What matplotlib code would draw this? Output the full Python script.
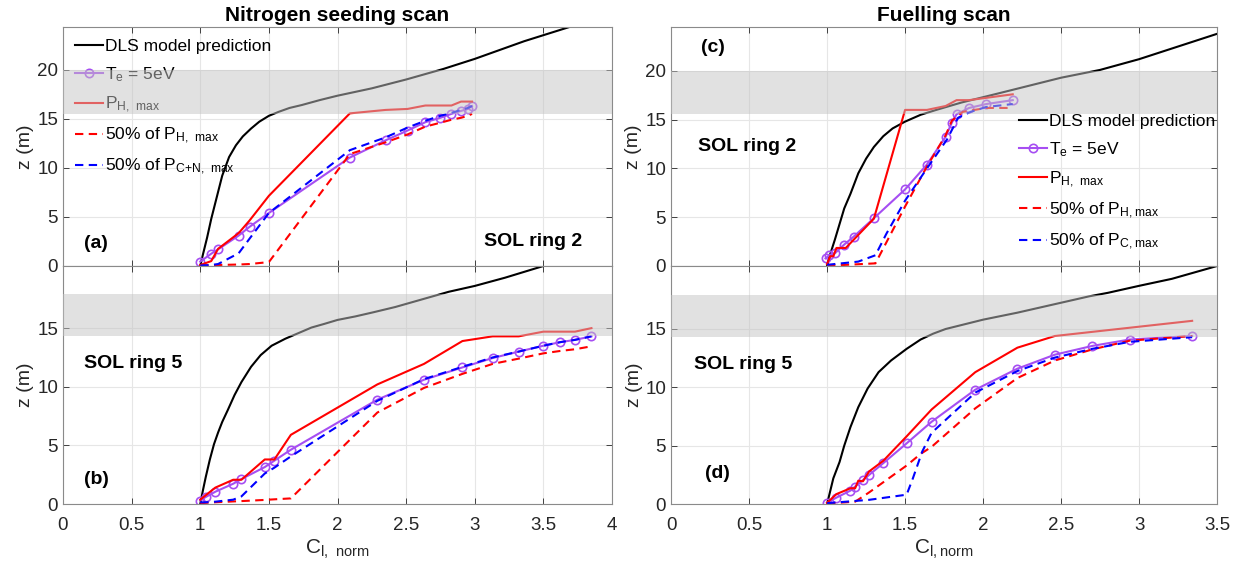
import numpy as np
import matplotlib
matplotlib.use('Agg')
import matplotlib.pyplot as plt
from matplotlib.ticker import FormatStrFormatter, MultipleLocator

plt.rcParams['font.family'] = ['Liberation Sans', 'DejaVu Sans']
plt.rcParams['mathtext.default'] = 'regular'

# ---- panel (a): nitrogen seeding, SOL ring 2 ----
a_dls_x = [1.0, 1.02, 1.05, 1.08, 1.12, 1.16, 1.21, 1.26, 1.31, 1.37, 1.43, 1.5, 1.57, 1.65,
           1.74, 1.87, 2.0, 2.25, 2.5, 2.77, 3.0, 3.36, 3.69, 3.75]
a_dls_z = [0, 1.2, 2.9, 4.8, 7.0, 9.2, 11.1, 12.3, 13.2, 14.0, 14.7, 15.3, 15.7, 16.1,
           16.4, 16.9, 17.35, 18.1, 19.0, 20.07, 21.1, 22.9, 24.35, 24.7]
a_x = [1.0, 1.08, 1.13, 1.28, 1.36, 1.5, 2.09, 2.35, 2.51, 2.64, 2.75, 2.83, 2.9, 2.95, 2.98]
a_te = [0.45, 1.25, 1.7, 3.1, 4.0, 5.4, 11.05, 12.8, 13.8, 14.65, 15.1, 15.5, 15.8, 16.0, 16.3]
a_ph = [0.1, 0.5, 1.75, 3.35, 4.65, 7.15, 15.55, 15.9, 16.0, 16.35, 16.35, 16.35, 16.75, 16.75, 16.75]
a_ph50 = [0.05, 0.08, 0.1, 0.15, 0.2, 0.4, 11.4, 12.6, 13.4, 14.2, 14.6, 14.9, 15.1, 15.3, 15.5]
a_pc50 = [0.05, 0.1, 0.2, 1.3, 2.8, 5.4, 11.8, 13.1, 14.1, 14.8, 15.3, 15.6, 15.9, 16.1, 16.3]

# ---- panel (b): nitrogen seeding, SOL ring 5 ----
b_dls_x = [1.0, 1.02, 1.04, 1.07, 1.10, 1.13, 1.16, 1.20, 1.25, 1.30, 1.37, 1.44, 1.52, 1.62,
           1.72, 1.81, 1.9, 2.0, 2.13, 2.26, 2.42, 2.57, 2.81, 3.0, 3.22, 3.5]
b_dls_z = [0, 1.2, 2.3, 3.8, 5.1, 6.1, 7.0, 8.0, 9.3, 10.4, 11.7, 12.7, 13.5, 14.1,
           14.6, 15.05, 15.35, 15.7, 16.0, 16.35, 16.8, 17.3, 18.1, 18.6, 19.3, 20.3]
b_x = [1.0, 1.04, 1.11, 1.24, 1.30, 1.47, 1.54, 1.66, 2.29, 2.63, 2.91, 3.13, 3.32, 3.50, 3.62, 3.73, 3.85]
b_te = [0.3, 0.6, 1.05, 1.73, 2.13, 3.15, 3.7, 4.63, 8.9, 10.6, 11.65, 12.45, 13.0, 13.5, 13.8, 14.0, 14.3]
b_ph = [0.37, 0.75, 1.4, 2.07, 2.07, 3.8, 3.8, 5.9, 10.2, 11.95, 13.9, 14.3, 14.3, 14.7, 14.7, 14.7, 15.0]
b_ph50 = [0.08, 0.1, 0.15, 0.22, 0.25, 0.35, 0.4, 0.48, 7.8, 9.9, 11.1, 11.95, 12.4, 12.85, 13.05, 13.2, 13.45]
b_pc50 = [0.14, 0.15, 0.2, 0.37, 0.65, 2.6, 3.1, 4.06, 8.8, 10.65, 11.7, 12.5, 13.0, 13.5, 13.8, 14.0, 14.3]

# ---- panel (c): fuelling, SOL ring 2 ----
c_dls_x = [1.0, 1.02, 1.05, 1.08, 1.11, 1.15, 1.2, 1.25, 1.3, 1.36, 1.42, 1.5, 1.6, 1.7, 1.86,
           2.1, 2.5, 2.75, 3.0, 3.25, 3.5]
c_dls_z = [0, 1.2, 2.7, 4.3, 5.9, 7.4, 9.5, 11.0, 12.2, 13.3, 14.1, 14.8, 15.5, 16.0, 16.75,
           17.7, 19.3, 20.1, 21.2, 22.5, 23.8]
c_te_x = [0.99, 1.015, 1.05, 1.11, 1.17, 1.30, 1.50, 1.64, 1.76, 1.80, 1.83, 1.91, 2.02, 2.19]
c_te = [0.78, 1.1, 1.3, 2.2, 3.0, 4.9, 7.85, 10.4, 13.25, 14.7, 15.55, 16.2, 16.6, 17.0]
c_ph_x = [1.0, 1.02, 1.04, 1.06, 1.12, 1.30, 1.50, 1.64, 1.76, 1.83, 1.91, 2.19]
c_ph = [0.2, 1.0, 1.0, 1.85, 1.85, 4.85, 16.0, 16.0, 16.4, 17.0, 17.0, 17.6]
c_ph50_x = [1.0, 1.1, 1.31, 1.36, 1.50, 1.64, 1.76, 1.80, 1.87, 2.02, 2.19]
c_ph50 = [0.05, 0.1, 0.27, 1.8, 6.1, 10.2, 13.4, 14.9, 15.8, 16.2, 16.2]
c_pc50_x = [1.0, 1.2, 1.31, 1.38, 1.50, 1.64, 1.77, 1.84, 1.92, 2.02, 2.19]
c_pc50 = [0.12, 0.45, 1.1, 3.3, 6.7, 10.0, 13.0, 15.2, 15.8, 16.3, 16.6]

# ---- panel (d): fuelling, SOL ring 5 ----
d_dls_x = [1.0, 1.02, 1.04, 1.08, 1.11, 1.15, 1.2, 1.26, 1.33, 1.41, 1.51, 1.6, 1.68, 1.76,
           1.85, 2.0, 2.22, 2.45, 2.68, 2.8, 3.0, 3.21, 3.5]
d_dls_z = [0, 1.1, 2.2, 3.6, 5.0, 6.6, 8.3, 9.9, 11.3, 12.3, 13.3, 14.1, 14.6, 15.0,
           15.3, 15.8, 16.4, 17.1, 17.8, 18.1, 18.7, 19.3, 20.4]
d_te_x = [1.0, 1.06, 1.15, 1.18, 1.23, 1.27, 1.36, 1.51, 1.67, 1.95, 2.22, 2.46, 2.70, 2.94, 3.34]
d_te = [0.12, 0.55, 1.15, 1.5, 2.05, 2.5, 3.5, 5.2, 7.05, 9.8, 11.6, 12.8, 13.55, 14.1, 14.4]
d_ph_x = [1.0, 1.06, 1.15, 1.18, 1.20, 1.23, 1.27, 1.36, 1.51, 1.67, 1.95, 2.22, 2.46, 3.34]
d_ph = [0.1, 0.85, 1.35, 1.35, 2.0, 1.95, 2.8, 3.7, 5.8, 8.1, 11.3, 13.4, 14.4, 15.7]
d_ph50_x = [1.0, 1.18, 1.27, 1.51, 1.6, 1.67, 1.95, 2.22, 2.46, 2.70, 2.94, 3.34]
d_ph50 = [0.04, 0.2, 1.0, 3.3, 4.3, 4.9, 8.2, 10.8, 12.3, 13.25, 14.0, 14.4]
d_pc50_x = [1.0, 1.27, 1.51, 1.55, 1.61, 1.67, 1.95, 2.22, 2.46, 2.70, 2.94, 3.34]
d_pc50 = [0.07, 0.36, 0.8, 2.2, 4.5, 6.1, 9.55, 11.4, 12.55, 13.3, 13.9, 14.3]

purple = '#a64ef2'
grey_txt = '#262626'


def draw(ax, dls, te, ph, ph50, pc50, band, ylim, xlim):
    l1, = ax.plot(*dls, color='k', lw=1.5)
    l2, = ax.plot(*te, color=purple, lw=1.5, marker='o', ms=6, mfc='none', mew=1.2)
    l3, = ax.plot(*ph, color='red', lw=1.5)
    l4, = ax.plot(*ph50, color='red', lw=1.5, dashes=(4, 2.6))
    l5, = ax.plot(*pc50, color='blue', lw=1.5, dashes=(4, 2.6))
    # grey band drawn over the curves (and legend), as in the original
    ax.axhspan(band[0], band[1], color='#c4c4c4', alpha=0.5, lw=0, zorder=6)
    ax.set_xlim(*xlim)
    ax.set_ylim(*ylim)
    ax.xaxis.set_major_locator(MultipleLocator(0.5))
    ax.yaxis.set_major_locator(MultipleLocator(5))
    ax.xaxis.set_major_formatter(FormatStrFormatter('%g'))
    ax.grid(True, color='#e6e6e6', lw=0.8)
    ax.set_axisbelow(True)
    ax.tick_params(direction='in', length=4, labelsize=13.5, colors=grey_txt, width=0.6,
                   top=True, right=True)
    ax.tick_params(axis='x', pad=9)
    for s in ax.spines.values():
        s.set_color('#8a8a8a')
        s.set_linewidth(0.8)
    ax.set_ylabel('z (m)', fontsize=14, color=grey_txt, labelpad=2)
    return [l1, l2, l3, l4, l5]


fig = plt.figure(figsize=(12.45, 5.79), dpi=100)
axA = fig.add_axes([0.0506, 0.5406, 0.441, 0.4128])
axB = fig.add_axes([0.0506, 0.1295, 0.441, 0.4111])
axC = fig.add_axes([0.539, 0.5406, 0.4386, 0.4128])
axD = fig.add_axes([0.539, 0.1295, 0.4386, 0.4111])

hA = draw(axA, (a_dls_x, a_dls_z), (a_x, a_te), (a_x, a_ph), (a_x, a_ph50), (a_x, a_pc50),
          (15.5, 20), (0, 24.35), (0, 4))
draw(axB, (b_dls_x, b_dls_z), (b_x, b_te), (b_x, b_ph), (b_x, b_ph50), (b_x, b_pc50),
     (14.3, 17.9), (0, 20.3), (0, 4))
hC = draw(axC, (c_dls_x, c_dls_z), (c_te_x, c_te), (c_ph_x, c_ph), (c_ph50_x, c_ph50),
          (c_pc50_x, c_pc50), (15.6, 20), (0, 24.5), (0, 3.5))
draw(axD, (d_dls_x, d_dls_z), (d_te_x, d_te), (d_ph_x, d_ph), (d_ph50_x, d_ph50),
     (d_pc50_x, d_pc50), (14.35, 17.95), (0, 20.4), (0, 3.5))

for ax in (axA, axC):
    ax.tick_params(labelbottom=False)
    ax.set_yticks([0, 5, 10, 15, 20])
for ax in (axB, axD):
    ax.set_yticks([0, 5, 10, 15])

axA.set_title('Nitrogen seeding scan', fontsize=15, fontweight='bold', pad=4)
axC.set_title('Fuelling scan', fontsize=15, fontweight='bold', pad=4)
axB.set_xlabel('C$_{l,\\ norm}$', fontsize=15, color=grey_txt, labelpad=3)
axD.set_xlabel('C$_{l,norm}$', fontsize=15, color=grey_txt, labelpad=3)

labA = ['DLS model prediction', 'T$_e$ = 5eV', 'P$_{H,\\ max}$',
        '50% of P$_{H,\\ max}$', '50% of P$_{C{+}N,\\ max}$']
labC = ['DLS model prediction', 'T$_e$ = 5eV', 'P$_{H,\\ max}$',
        '50% of P$_{H,max}$', '50% of P$_{C,max}$']
axA.legend(hA, labA, loc='upper left', bbox_to_anchor=(0.0, 1.0), frameon=False,
           fontsize=12.5, handlelength=1.6, handletextpad=0.1, labelspacing=0.62,
           borderaxespad=0.3)
axC.legend(hC, labC, loc='upper left', bbox_to_anchor=(0.625, 0.665), frameon=False,
           fontsize=12.5, handlelength=1.6, handletextpad=0.1, labelspacing=0.62,
           borderaxespad=0)

bold = dict(fontsize=14, fontweight='bold', color='k')
axA.text(0.15, 2.3, '(a)', ha='left', va='center', **bold)
axA.text(3.78, 2.5, 'SOL ring 2', ha='right', va='center', **bold)
axB.text(0.15, 12.0, 'SOL ring 5', ha='left', va='center', **bold)
axB.text(0.15, 2.1, '(b)', ha='left', va='center', **bold)
axC.text(0.19, 22.4, '(c)', ha='left', va='center', **bold)
axC.text(0.17, 12.2, 'SOL ring 2', ha='left', va='center', **bold)
axD.text(0.15, 12.0, 'SOL ring 5', ha='left', va='center', **bold)
axD.text(0.22, 2.6, '(d)', ha='left', va='center', **bold)

fig.savefig('out.png', dpi=100)
